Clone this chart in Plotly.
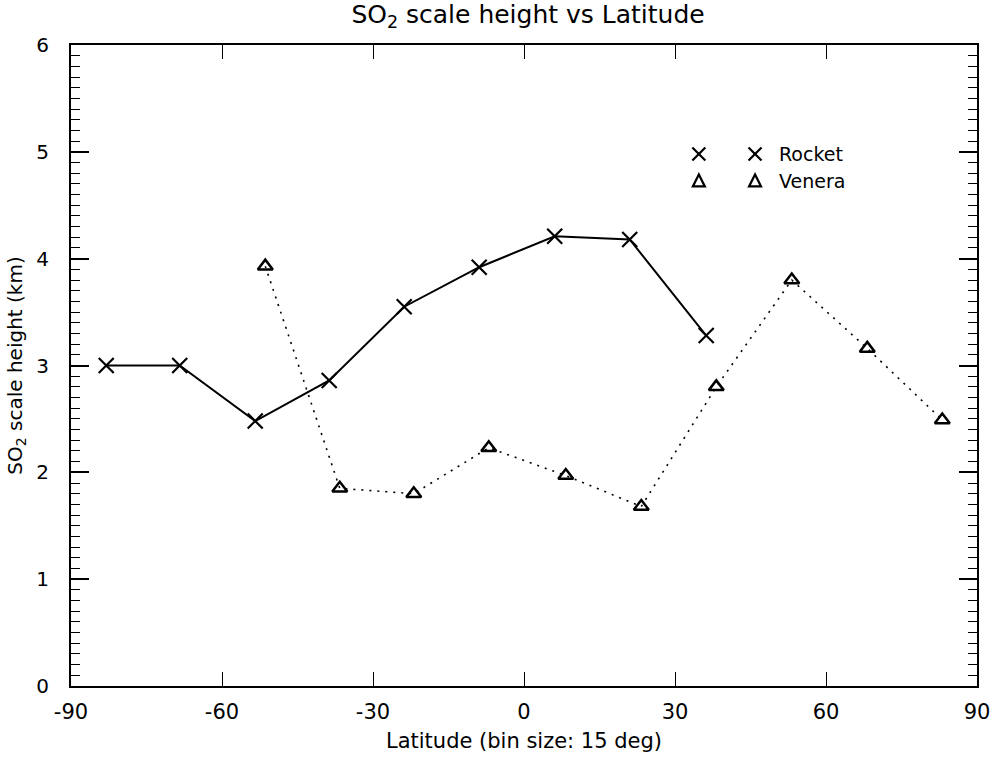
import plotly.graph_objects as go

# Latitude bins (deg) and SO2 scale heights (km)
rocket_lat = [-83.0, -68.4, -53.4, -38.7, -23.8, -8.9, 6.1, 21.0, 36.2]
rocket_h = [3.00, 3.00, 2.48, 2.86, 3.55, 3.92, 4.21, 4.18, 3.28]

venera_lat = [-51.4, -36.6, -21.9, -7.0, 8.3, 23.3, 38.2, 53.2, 68.2, 83.1]
venera_h = [3.93, 1.85, 1.80, 2.23, 1.97, 1.68, 2.80, 3.80, 3.16, 2.49]

x_ticks = [-90, -60, -30, 0, 30, 60, 90]
y_ticks = [0, 1, 2, 3, 4, 5, 6]

FONT = "DejaVu Sans"
INK = "black"

fig = go.Figure()

fig.add_trace(go.Scatter(
    x=rocket_lat, y=rocket_h, mode="lines+markers", name="Rocket",
    line=dict(color=INK, width=2),
    marker=dict(symbol="x-thin", size=15, line=dict(color=INK, width=2.2)),
    showlegend=False,
))
fig.add_trace(go.Scatter(
    x=venera_lat, y=venera_h, mode="lines+markers", name="Venera",
    line=dict(color=INK, width=1.6, dash="2px,6px"),
    marker=dict(symbol="triangle-up-open", size=13, color=INK,
                line=dict(color=INK, width=2.5)),
    showlegend=False,
))

# Key: two glyphs and a label per series, glyphs drawn as small pixel-sized shapes
KEY_X = (0.693, 0.755)
KEY_ROWS = [("Rocket", 0.830, "cross"), ("Venera", 0.788, "triangle")]
for label, yy, glyph in KEY_ROWS:
    for xs in KEY_X:
        common = dict(xref="paper", yref="paper", xsizemode="pixel", ysizemode="pixel",
                      xanchor=xs, yanchor=yy, line=dict(color=INK, width=2.2))
        if glyph == "cross":
            fig.add_shape(type="line", x0=-6.5, x1=6.5, y0=-6.5, y1=6.5, **common)
            fig.add_shape(type="line", x0=-6.5, x1=6.5, y0=6.5, y1=-6.5, **common)
        else:
            fig.add_shape(type="path", path="M -6,-5.5 L 6,-5.5 L 0,6.5 Z", **common)
    fig.add_annotation(xref="paper", yref="paper", x=0.779, y=yy, text=label,
                       xanchor="left", yanchor="middle", showarrow=False,
                       font=dict(family=FONT, size=19, color=INK))

fig.update_layout(
    width=1002, height=761,
    margin=dict(l=71, r=16, t=45, b=74),
    paper_bgcolor="white", plot_bgcolor="white",
    font=dict(family=FONT, size=20, color=INK),
    title=dict(text="SO<sub>2</sub> scale height vs Latitude", x=0.527, xanchor="center",
               y=0.993, yanchor="top", font=dict(family=FONT, size=25, color=INK)),
)

fig.update_xaxes(
    range=[-90, 90], tickvals=x_ticks, ticktext=[str(v) for v in x_ticks],
    ticks="inside", ticklen=14, tickwidth=1.2, tickcolor=INK,
    showline=True, linecolor=INK, linewidth=2, mirror="ticks",
    showgrid=False, zeroline=False,
    tickfont=dict(family=FONT, size=21, color=INK),
    ticklabelstandoff=6,
    title=dict(text="Latitude (bin size: 15 deg)", standoff=10,
               font=dict(family=FONT, size=21, color=INK)),
)
fig.update_yaxes(
    range=[0, 6], tickvals=y_ticks, ticktext=[str(v) for v in y_ticks],
    ticks="inside", ticklen=18, tickwidth=1.5, tickcolor=INK,
    minor=dict(dtick=0.1, ticks="inside", ticklen=9, tickwidth=1.2, tickcolor=INK),
    showline=True, linecolor=INK, linewidth=2, mirror="ticks",
    showgrid=False, zeroline=False,
    tickfont=dict(family=FONT, size=20, color=INK),
    ticklabelstandoff=16,
    title=dict(text="SO<sub>2</sub> scale height (km)", standoff=8,
               font=dict(family=FONT, size=20, color=INK)),
)

fig.write_html("out.html")
